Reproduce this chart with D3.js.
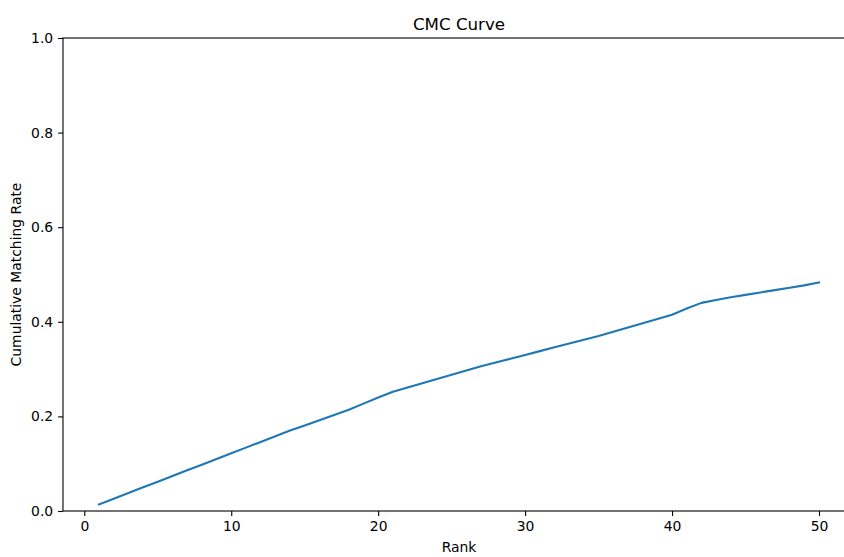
<!DOCTYPE html>
<html>
<head>
<meta charset="utf-8">
<script src="https://cdn.jsdelivr.net/npm/d3@7"></script>
<style>
  html, body { margin: 0; padding: 0; background: #fff; }
  svg { display: block; }
  text { font-family: "DejaVu Sans", sans-serif; fill: #000; }
</style>
</head>
<body>
<script>
const ranks = d3.range(1, 51);
const rates = [
  0.014, 0.026, 0.038, 0.050, 0.062, 0.074, 0.086, 0.098, 0.110, 0.122,
  0.134, 0.146, 0.158, 0.170, 0.181, 0.192, 0.203, 0.214, 0.227, 0.240,
  0.252, 0.261, 0.270, 0.279, 0.288, 0.297, 0.306, 0.314, 0.322, 0.330,
  0.338, 0.346, 0.354, 0.362, 0.370, 0.379, 0.388, 0.397, 0.406, 0.415,
  0.428, 0.440, 0.446, 0.452, 0.457, 0.462, 0.467, 0.472, 0.477, 0.483
];
const xTicks = [0, 10, 20, 30, 40, 50];
const yTicks = [0.0, 0.2, 0.4, 0.6, 0.8, 1.0];
const title = "CMC Curve";
const xLabel = "Rank";
const yLabel = "Cumulative Matching Rate";

const W = 844, H = 557;
const mLeft = 63, mTop = 38, mRight = 855, mBottom = 511;

const svg = d3.select("body").append("svg").attr("width", W).attr("height", H);

const x = d3.scaleLinear().domain([-1.45, 52.45]).range([mLeft, mRight]);
const y = d3.scaleLinear().domain([0, 1]).range([mBottom, mTop]);

// line
const line = d3.line().x((d, i) => x(ranks[i])).y(d => y(d));
svg.append("path").datum(rates)
  .attr("d", line)
  .attr("fill", "none")
  .attr("stroke", "#1f77b4")
  .attr("stroke-width", 2.1)
  .attr("stroke-linejoin", "round")
  .attr("stroke-linecap", "square");

// axes
const xAxis = d3.axisBottom(x).tickValues(xTicks).tickFormat(d3.format("d")).tickSizeOuter(0).tickSize(4.9).tickPadding(4.9);
const yAxis = d3.axisLeft(y).tickValues(yTicks).tickFormat(d3.format(".1f")).tickSizeOuter(0).tickSize(4.9).tickPadding(4.9);

const gx = svg.append("g").attr("transform", `translate(0,${mBottom})`).call(xAxis);
const gy = svg.append("g").attr("transform", `translate(${mLeft},0)`).call(yAxis);
[gx, gy].forEach(g => {
  g.select(".domain").remove();
  g.selectAll(".tick line").attr("stroke", "#000").attr("stroke-width", 1.1);
  g.selectAll(".tick text").attr("font-size", "13.9px").attr("font-family", "DejaVu Sans, sans-serif").attr("fill", "#000");
});

// spines
svg.append("rect")
  .attr("x", mLeft).attr("y", mTop)
  .attr("width", mRight - mLeft).attr("height", mBottom - mTop)
  .attr("fill", "none").attr("stroke", "#000").attr("stroke-width", 1.1);

// title and labels
const cx = (mLeft + mRight) / 2;
svg.append("text").attr("x", cx).attr("y", mTop - 8)
  .attr("text-anchor", "middle").attr("font-size", "16.7px").text(title);
svg.append("text").attr("x", cx).attr("y", 552)
  .attr("text-anchor", "middle").attr("font-size", "13.9px").text(xLabel);
svg.append("text")
  .attr("transform", `translate(21,${(mTop + mBottom) / 2}) rotate(-90)`)
  .attr("text-anchor", "middle").attr("font-size", "13.9px").text(yLabel);
</script>
</body>
</html>
